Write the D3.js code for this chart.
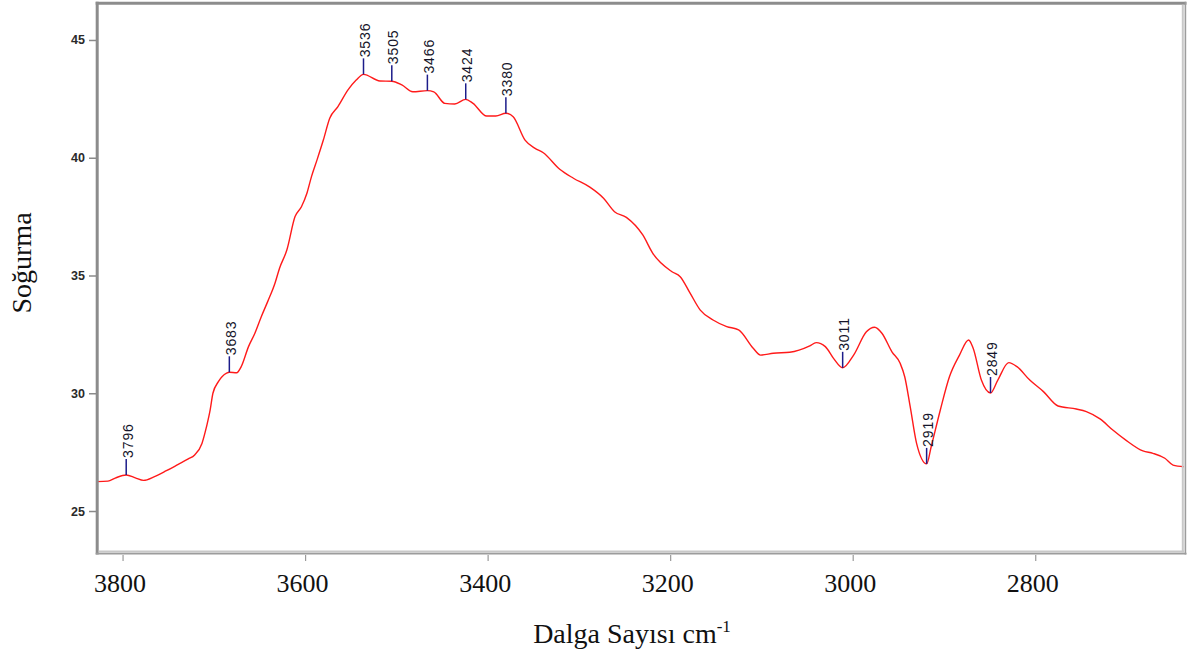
<!DOCTYPE html>
<html>
<head>
<meta charset="utf-8">
<script src="https://cdn.jsdelivr.net/npm/d3@7/dist/d3.min.js"></script>
<style>
  html, body { margin: 0; padding: 0; background: #ffffff; }
  svg { display: block; }
  .serif { font-family: 'Liberation Serif', 'Times New Roman', serif; }
</style>
</head>
<body>
<svg id="chart" width="1188" height="659"></svg>
<script>
// IR spectrum, 3828 – 2637 cm-1 region
const wavenumbers = [
  3828, 3816, 3808, 3796, 3786, 3777, 3765, 3752, 3739, 3728,
  3721, 3713, 3708, 3704, 3701, 3695, 3686, 3683, 3675, 3670,
  3662, 3655, 3648, 3641, 3633, 3628, 3620, 3611, 3604, 3598,
  3593, 3587, 3580, 3573, 3564, 3553, 3544, 3536, 3518, 3505,
  3494, 3482, 3466, 3459, 3447, 3436, 3424, 3416, 3401, 3391,
  3380, 3372, 3359, 3348, 3339, 3321, 3306, 3288, 3273, 3261,
  3248, 3230, 3219, 3198, 3189, 3178, 3167, 3153, 3138, 3125,
  3109, 3101, 3087, 3069, 3047, 3040, 3030, 3021, 3011, 2999,
  2985, 2976, 2968, 2957, 2948, 2943, 2937, 2930, 2919, 2914,
  2904, 2894, 2883, 2873, 2868, 2859, 2849, 2841, 2829, 2820,
  2806, 2791, 2775, 2755, 2744, 2729, 2715, 2700, 2682, 2671,
  2658, 2649, 2637
];
const absorbance = [
  26.25, 26.27, 26.40, 26.53, 26.41, 26.30, 26.46, 26.71, 26.98, 27.21,
  27.38, 27.87, 28.58, 29.29, 30.00, 30.49, 30.85, 30.89, 30.87, 31.13,
  31.98, 32.55, 33.25, 33.89, 34.67, 35.31, 36.08, 37.50, 37.92, 38.49,
  39.20, 39.90, 40.75, 41.68, 42.17, 42.88, 43.30, 43.54, 43.26, 43.25,
  43.09, 42.80, 42.85, 42.80, 42.31, 42.28, 42.48, 42.31, 41.77, 41.77,
  41.89, 41.74, 40.75, 40.40, 40.21, 39.51, 39.13, 38.75, 38.28, 37.71,
  37.47, 36.72, 35.94, 35.16, 34.95, 34.24, 33.53, 33.11, 32.83, 32.69,
  31.91, 31.62, 31.70, 31.74, 32.01, 32.15, 31.98, 31.48, 31.08, 31.62,
  32.61, 32.80, 32.55, 31.76, 31.27, 30.70, 29.43, 27.87, 27.00, 27.73,
  29.29, 30.70, 31.62, 32.26, 31.91, 30.56, 30.01, 30.56, 31.30, 31.13,
  30.56, 30.07, 29.46, 29.33, 29.22, 28.91, 28.44, 27.99, 27.55, 27.45,
  27.24, 26.95, 26.88
];
// Picked peaks (cm-1)
const peakLabels = [3796, 3683, 3536, 3505, 3466, 3424, 3380, 3011, 2919, 2849];
const xTicks = [3800, 3600, 3400, 3200, 3000, 2800];
const yTicks = [25, 30, 35, 40, 45];

const svg = d3.select("#chart");

const x = d3.scaleLinear().domain([3828, 2637]).range([97, 1184]);
const y = d3.scaleLinear().domain([46.57, 23.26]).range([3, 552]);

const points = wavenumbers.map((w, i) => ({ w, v: absorbance[i] }));

// Spectrum trace
const line = d3.line()
  .x(d => x(d.w))
  .y(d => y(d.v))
  .curve(d3.curveMonotoneX);

svg.append("path")
  .datum(points)
  .attr("d", line)
  .attr("fill", "none")
  .attr("stroke", "#ff1a1a")
  .attr("stroke-width", 1.4)
  .attr("stroke-linejoin", "round");

// Peak markers with rotated wavenumber labels
const stem = 16;
const peaks = peakLabels.map(w => {
  const i = wavenumbers.indexOf(w);
  return { w, v: absorbance[i] };
});

const pk = svg.append("g").attr("class", "peaks");
pk.selectAll("line")
  .data(peaks)
  .join("line")
  .attr("x1", d => x(d.w))
  .attr("x2", d => x(d.w))
  .attr("y1", d => y(d.v))
  .attr("y2", d => y(d.v) - stem)
  .attr("stroke", "#1c1c8a")
  .attr("stroke-width", 1.5);

pk.selectAll("text")
  .data(peaks)
  .join("text")
  .attr("transform", d => `translate(${x(d.w) + 1.5},${y(d.v) - stem - 1}) rotate(-90)`)
  .attr("dy", "0.36em")
  .attr("text-anchor", "start")
  .style("font-family", "'Liberation Sans', Arial, sans-serif")
  .style("font-size", "14px")
  .style("letter-spacing", "0.9px")
  .attr("fill", "#15152a")
  .text(d => d.w);

// Y axis
const yAxis = d3.axisLeft(y).tickValues(yTicks).tickSize(7).tickPadding(4);
const gy = svg.append("g")
  .attr("transform", "translate(96,0)")
  .call(yAxis);
gy.select(".domain").remove();
gy.selectAll(".tick line").attr("stroke", "#8a8a8a").attr("stroke-width", 1.5);
gy.selectAll(".tick text")
  .style("font-family", "'Liberation Sans', Arial, sans-serif")
  .style("font-size", "12.5px")
  .style("font-weight", "bold")
  .attr("fill", "#2a2a2a");

// X axis
const xAxis = d3.axisBottom(x).tickValues(xTicks).tickSize(6).tickPadding(13).tickFormat(d3.format("d"));
const gx = svg.append("g")
  .attr("transform", "translate(0,555)")
  .call(xAxis);
gx.select(".domain").remove();
gx.selectAll(".tick line").attr("stroke", "#9a9a9a").attr("stroke-width", 1.2);
gx.selectAll(".tick text")
  .attr("class", "serif")
  .style("font-family", "'Liberation Serif', 'Times New Roman', serif")
  .style("font-size", "26px")
  .attr("dx", -3)
  .attr("fill", "#111");

// Plot frame
const frame = svg.append("g").attr("fill", "none");
frame.append("line").attr("x1", 95.7).attr("x2", 1186.5).attr("y1", 3.2).attr("y2", 3.2)
  .attr("stroke", "#8c8c8c").attr("stroke-width", 3);
frame.append("line").attr("x1", 97.2).attr("x2", 97.2).attr("y1", 1.7).attr("y2", 554.5)
  .attr("stroke", "#8c8c8c").attr("stroke-width", 3);
frame.append("line").attr("x1", 98.7).attr("x2", 1184).attr("y1", 551.5).attr("y2", 551.5)
  .attr("stroke", "#c8c8c8").attr("stroke-width", 2);
frame.append("line").attr("x1", 95.7).attr("x2", 1186.5).attr("y1", 553.6).attr("y2", 553.6)
  .attr("stroke", "#9c9c9c").attr("stroke-width", 1.6);
frame.append("line").attr("x1", 1182.8).attr("x2", 1182.8).attr("y1", 4.7).attr("y2", 552.5)
  .attr("stroke", "#c8c8c8").attr("stroke-width", 2);
frame.append("line").attr("x1", 1185.4).attr("x2", 1185.4).attr("y1", 1.7).attr("y2", 554.4)
  .attr("stroke", "#9c9c9c").attr("stroke-width", 1.6);

// Axis titles
svg.append("text")
  .attr("transform", "translate(31,263) rotate(-90)")
  .attr("text-anchor", "middle")
  .style("font-family", "'Liberation Serif', 'Times New Roman', serif")
  .style("font-size", "28px")
  .attr("fill", "#111")
  .text("Soğurma");

const xt = svg.append("text")
  .attr("x", 632)
  .attr("y", 643)
  .attr("text-anchor", "middle")
  .style("font-family", "'Liberation Serif', 'Times New Roman', serif")
  .style("font-size", "28px")
  .attr("fill", "#111");
xt.append("tspan").text("Dalga Sayısı cm");
xt.append("tspan").attr("dy", -11).style("font-size", "17px").text("-1");
</script>
</body>
</html>
